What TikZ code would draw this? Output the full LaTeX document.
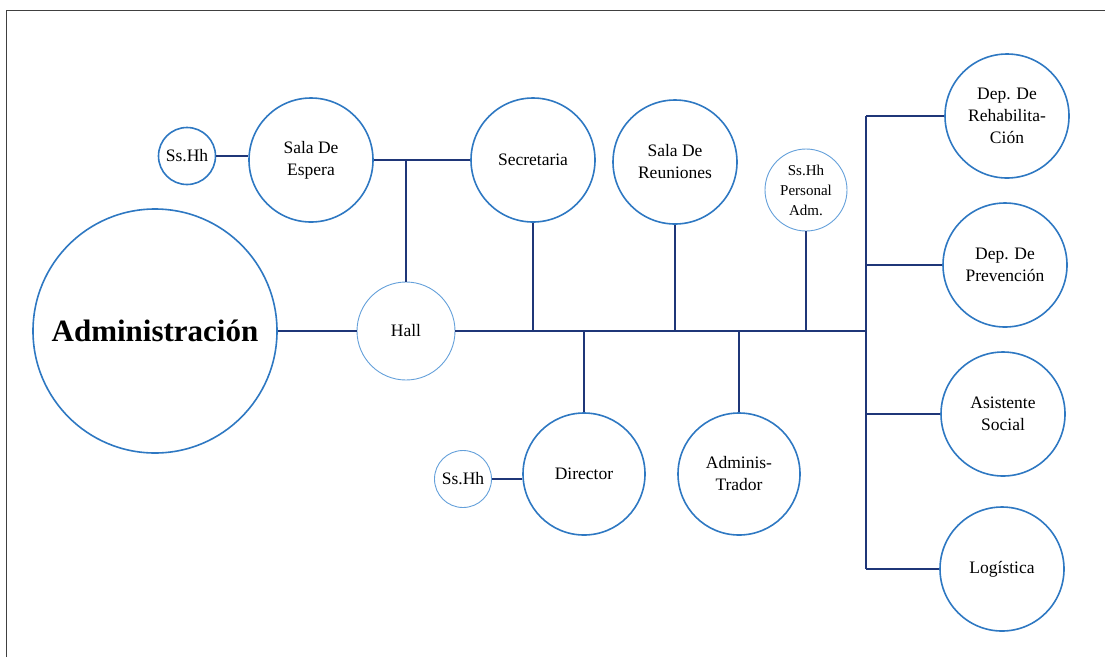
\documentclass[tikz,border=0pt]{standalone}
\usepackage{fontspec}
\setmainfont{Liberation Serif}
\usepackage{tikz}
\usetikzlibrary{positioning}

\definecolor{roomblue}{RGB}{46,120,194}
\definecolor{softblue}{RGB}{100,160,218}
\definecolor{linknavy}{RGB}{31,54,120}
\definecolor{framegray}{RGB}{64,64,64}

\begin{document}
\begin{tikzpicture}[
    x=1pt, y=-1pt,
    room/.style={draw=roomblue, line width=1.6pt, circle, inner sep=0pt,
                 minimum size=124pt, align=center,
                 font=\rmfamily\fontsize{17.5}{22}\selectfont},
    small/.style={draw=roomblue, line width=1.6pt, circle, inner sep=0pt,
                  minimum size=57pt, align=center,
                  font=\rmfamily\fontsize{17.5}{22}\selectfont},
    light/.style={draw=softblue, line width=0.9pt},
    link/.style={draw=linknavy, line width=1.6pt},
  ]
    \useasboundingbox (0,0) rectangle (1105,657);
    % === frame ===
    \draw[framegray, line width=1pt] (6.5,657) -- (6.5,10.5) -- (1105,10.5);

    % === main axis ===
    \node[room, minimum size=244pt, font=\rmfamily\fontsize{31}{36}\selectfont\bfseries]
      (admin) at (155,331) {Administración};
    \node[room, light, minimum size=98pt] (hall) at (406,331) {Hall};
    \coordinate (tr) at (866,331);

    % Upper row
    \node[small] (ssh) at (187,156) {Ss.Hh};
    \node[room] (espera) at (311,160) {Sala De\\Espera};
    \node[room] (secr) at (533,160) {Secretaria};
    \node[room] (reun) at (675,162) {Sala De\\Reuniones};
    \node[room, light, minimum size=82pt, font=\rmfamily\fontsize{15}{20}\selectfont]
      (ssp) at (806,190) {Ss.Hh\\Personal\\Adm.};

    % Lower row
    \node[small, light] (ssd) at (463,479) {Ss.Hh};
    \node[room, minimum size=122pt] (dir) at (584,474) {Director};
    \node[room, minimum size=122pt] (admr) at (739,474) {Adminis-\\Trador};

    % Right column
    \node[room] (rehab) at (1007,116) {Dep. De\\Rehabilita-\\Ción};
    \node[room] (prev) at (1005,265) {Dep. De\\Prevención};
    \node[room] (asis) at (1003,414) {Asistente\\Social};
    \node[room] (logis) at (1002,569) {Logística};

    % === connectors ===
    \draw[link] (admin.east) -- (hall.west);
    \draw[link] (hall.east) -- (tr);
    \draw[link] (ssh.east) -- (ssh.east -| espera.west);
    \draw[link] (espera.east) -- (secr.west);
    \coordinate (ej) at (hall.north |- espera.east);
    \draw[link] (ej) -- (hall.north);
    \draw[link] (secr.south) -- (secr.south |- tr);
    \draw[link] (reun.south) -- (reun.south |- tr);
    \draw[link] (ssp.south) -- (ssp.south |- tr);
    \draw[link] (dir.north) -- (dir.north |- tr);
    \draw[link] (admr.north) -- (admr.north |- tr);
    \draw[link] (ssd.east) -- (ssd.east -| dir.west);

    % === right branches ===
    \draw[link] (tr |- rehab.west) -- (tr |- logis.west);
    \draw[link] (tr |- rehab.west) -- (rehab.west);
    \draw[link] (tr |- prev.west) -- (prev.west);
    \draw[link] (tr |- asis.west) -- (asis.west);
    \draw[link] (tr |- logis.west) -- (logis.west);
  \end{tikzpicture}
\end{document}
